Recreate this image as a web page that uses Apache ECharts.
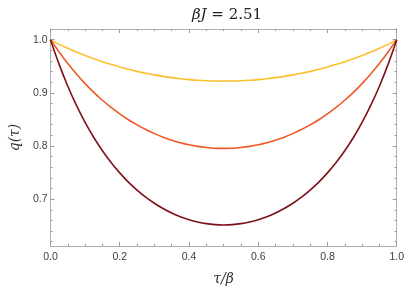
<!DOCTYPE html>
<html>
<head>
<meta charset="utf-8">
<script src="https://cdn.jsdelivr.net/npm/echarts@6/dist/echarts.min.js"></script>
<style>html,body{margin:0;padding:0;background:#fff}#c{width:407px;height:291px}</style>
</head>
<body>
<div id="c"></div>
<script>
var tau = [0,0.025,0.05,0.075,0.1,0.125,0.15,0.175,0.2,0.225,0.25,0.275,0.3,0.325,0.35,0.375,0.4,0.425,0.45,0.475,0.5,
           0.525,0.55,0.575,0.6,0.625,0.65,0.675,0.7,0.725,0.75,0.775,0.8,0.825,0.85,0.875,0.9,0.925,0.95,0.975,1];
var qYellow = [1.0000,0.9911,0.9837,0.9767,0.9701,0.9641,0.9585,0.9534,0.9486,0.9443,0.9403,0.9368,0.9337,0.9309,0.9285,0.9265,0.9249,0.9236,0.9227,0.9222,0.9220,
               0.9222,0.9227,0.9236,0.9249,0.9265,0.9285,0.9309,0.9337,0.9368,0.9403,0.9443,0.9486,0.9534,0.9585,0.9641,0.9701,0.9767,0.9837,0.9911,1.0000];
var qOrange = [1.0000,0.9769,0.9550,0.9353,0.9173,0.9008,0.8860,0.8725,0.8604,0.8494,0.8397,0.8310,0.8233,0.8166,0.8109,0.8062,0.8023,0.7993,0.7972,0.7959,0.7955,
               0.7959,0.7972,0.7993,0.8023,0.8062,0.8109,0.8166,0.8233,0.8310,0.8397,0.8494,0.8604,0.8725,0.8860,0.9008,0.9173,0.9353,0.9550,0.9769,1.0000];
var qDarkRed = [1.0000,0.9535,0.9124,0.8763,0.8443,0.8160,0.7912,0.7690,0.7495,0.7322,0.7172,0.7038,0.6923,0.6824,0.6740,0.6670,0.6614,0.6571,0.6540,0.6522,0.6516,
                0.6522,0.6540,0.6571,0.6614,0.6670,0.6740,0.6824,0.6923,0.7038,0.7172,0.7322,0.7495,0.7690,0.7912,0.8160,0.8443,0.8763,0.9124,0.9535,1.0000];
var yMajor = [0.7,0.8,0.9,1.0];
var yMinor = [0.62,0.64,0.66,0.68,0.72,0.74,0.76,0.78,0.82,0.84,0.86,0.88,0.92,0.94,0.96,0.98,1.02];
var titleMain = 'βJ';
var titleRest = ' = 2.51';

function pairs(ys){ return tau.map(function(t,i){return [t, ys[i]];}); }
var YMIN = 0.612, YMAX = 1.02;
var frame = '#b0b0b0';
var lab = {color:'#404040', fontFamily:'Liberation Sans, Arial, sans-serif', fontSize:10.5};

function yAx(pos, major, showLabel){
  return {
    type:'value', position:pos, min:YMIN, max:YMAX,
    axisLine:{show:true, lineStyle:{color:frame, width:1}},
    splitLine:{show:false},
    axisTick:{show:true, inside:true, length: major?4:2, lineStyle:{color:'#999'}, customValues: major?yMajor:yMinor},
    axisLabel: showLabel ? Object.assign({show:true, margin:3, formatter:function(v){return v.toFixed(1);}, customValues:yMajor}, lab) : {show:false},
    name: showLabel ? 'q(τ)' : '',
    nameLocation:'middle', nameGap:24, nameRotate:90,
    nameTextStyle:{fontFamily:'DejaVu Serif, Liberation Serif, serif', fontStyle:'italic', fontSize:14, color:'#333'}
  };
}
function xAx(pos, showLabel){
  return {
    type:'value', position:pos, min:0, max:1, interval:0.2,
    axisLine:{show:true, onZero:false, lineStyle:{color:frame, width:1}},
    splitLine:{show:false},
    axisTick:{show:true, inside:true, length:4, lineStyle:{color:'#999'}},
    minorTick:{show:true, splitNumber:4, length:2, lineStyle:{color:'#999'}},
    axisLabel: showLabel ? Object.assign({show:true, margin:6, formatter:function(v){return v.toFixed(1);}}, lab) : {show:false},
    name: showLabel ? 'τ/β' : '',
    nameLocation:'middle', nameGap:26,
    nameTextStyle:{fontFamily:'DejaVu Serif, Liberation Serif, serif', fontStyle:'italic', fontSize:14, color:'#333'}
  };
}

var chart = echarts.init(document.getElementById('c'), null, {renderer:'canvas'});
chart.setOption({
  animation:false,
  backgroundColor:'#fff',
  title:{
    text:'{i|'+titleMain+'}{n|'+titleRest+'}',
    left:222, textAlign:'center', top:3,
    textStyle:{fontWeight:'normal', rich:{
      i:{fontFamily:'DejaVu Serif, Liberation Serif, serif', fontStyle:'italic', fontWeight:'normal', fontSize:15, color:'#222'},
      n:{fontFamily:'DejaVu Serif, Liberation Serif, serif', fontWeight:'normal', fontSize:15, color:'#222'}
    }}
  },
  grid:{left:46, right:9, top:29, bottom:45},
  xAxis:[xAx('bottom', true), xAx('top', false)],
  yAxis:[yAx('left', true, true), yAx('left', false, false), yAx('right', true, false), yAx('right', false, false)],
  series:[
    {type:'line', data:pairs(qYellow), smooth:0.4, showSymbol:false, lineStyle:{color:'#FBC02D', width:1.6}},
    {type:'line', data:pairs(qOrange), smooth:0.4, showSymbol:false, lineStyle:{color:'#EE5A24', width:1.6}},
    {type:'line', data:pairs(qDarkRed), smooth:0.4, showSymbol:false, lineStyle:{color:'#7E1018', width:1.6}}
  ]
});
</script>
</body>
</html>
